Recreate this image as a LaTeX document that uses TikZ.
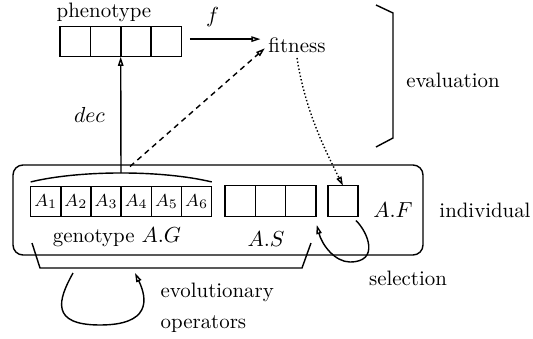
\documentclass[tikz,border=0pt]{standalone}
\usetikzlibrary{arrows.meta,positioning}

\begin{document}
\begin{tikzpicture}[x=0.46pt,y=-0.46pt,>={Triangle[open,length=4.2pt,width=2.5pt]},
  line width=0.65pt,font=\fontsize{9.6}{11}\selectfont,
  cell/.style={draw,minimum width=13.9pt,minimum height=14pt,inner sep=0pt,
    outer sep=0pt,font=\footnotesize}]
  \useasboundingbox (0,0) rectangle (533,339);

  % phenotype and fitness
  \foreach \i in {1,...,4}
    \node[cell] (p\i) at ({44.8+30.4*\i},41.5) {};
  \node (phen) at (104,12) {phenotype};
  \node (fit) at (297,45.6) {fitness};
  \coordinate (fa) at ([shift={(3.9pt,1.1pt)}]p4.east);
  \draw[->] (fa) -- (fa -| fit.west) node[above=2pt,pos=0.32] {$f$};

  % individual
  \node[draw,rounded corners=4.6pt,minimum width=188.6pt,minimum height=41.4pt,
    inner sep=0pt] (ind) at (218,210) {};
  \foreach \i in {1,...,6}
    \node[cell] (g\i) at ({15.6+30.17*\i},201.5) {$A_{\i}$};
  \foreach \i in {1,2,3}
    \node[cell] (s\i) at ({209.9+30.3*\i},201) {};
  \node[cell] (fc) at (343,201) {};
  \node (geno) at (117,237) {genotype $A.G$};
  \node (aslbl) at (266,239) {$A.S$};
  \node (aflbl) at (393,210) {$A.F$};
  \node (indiv) at (485,210) {individual};

  % decoding
  \coordinate (gtop) at (121,173);
  \draw ([yshift=2pt]g1.north west) .. controls (80,170) and (162,170) .. ([yshift=2pt]g6.north east);
  \draw[->] (gtop) -- (p2.south east) node[midway,left=3.7pt] {$dec$};
  \coordinate (dstart) at (130,166.5);
  \draw[dash pattern=on 2.5pt off 2pt,->] (dstart) -- ([shift={(2pt,-1.2pt)}]fit.west);
  \draw[densely dotted,->] ([yshift=1.4pt]fit.south) .. controls (305,110) and (325,150) .. (fc.north);

  % evaluation
  \draw (376,5) -- (393,13) -- (393,138) -- (376,147);
  \node (eval) at (453,80) {evaluation};

  % selection
  \node (sel) at (408,278) {selection};
  \draw[->] ([shift={(-1pt,-2pt)}]fc.south east) .. controls (368,232) and (380,262) .. (350,262)
    .. controls (335,262) and (322,245) .. ([shift={(0.4pt,-4pt)}]s3.south east);

  % evolutionary operators
  \draw (32,243) -- (40,268) -- (302,268) -- (311,243);
  \coordinate (eva) at (73,273);
  \coordinate (evb) at (135,273);
  \draw[->] (eva) .. controls (58,300) and (50,325) .. (100,325)
    .. controls (150,325) and (148,300) .. (evb);
  \node[align=left,anchor=west,inner sep=0pt,font=\fontsize{9.6}{14.3}\selectfont]
    (evo) at (160,307.5) {evolutionary\\operators};
\end{tikzpicture}
\end{document}
